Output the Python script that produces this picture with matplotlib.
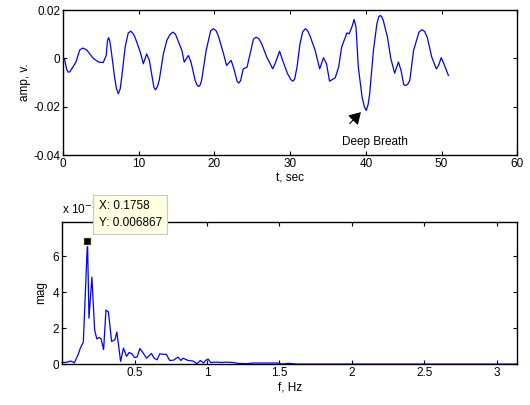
import matplotlib.pyplot as plt

plt.rcParams['font.family'] = ['Liberation Sans', 'DejaVu Sans']
plt.rcParams['font.size'] = 8.5

# breathing signal (t in sec, amplitude in volts)
t = [0, 0.2, 0.5, 0.7, 0.9, 1.15, 1.7, 2.2, 2.6, 3.1, 4.0, 4.7, 5.3, 5.7,
     5.85, 6.0, 6.15, 6.3, 6.8, 7.05, 7.3, 7.55, 7.75, 8.2, 8.6, 8.95, 9.3,
     9.5, 10.2, 10.6, 11.05, 11.4, 11.85, 12.0, 12.2, 12.45, 12.7, 13.25, 13.7,
     14.1, 14.5, 14.85, 15.0, 15.7, 16.0, 16.55, 16.9, 17.45, 17.7, 17.9, 18.1,
     18.3, 18.9, 19.5, 19.85, 20.2, 20.5, 21.2, 21.6, 22.2, 22.5, 23.0, 23.2,
     23.45, 23.8, 24.3, 24.8, 25.15, 25.5, 25.85, 26.25, 26.9, 27.7, 28.0,
     28.6, 29.0, 29.65, 30.1, 30.35, 30.6, 30.9, 31.3, 31.65, 32.0, 32.3, 32.6,
     33.3, 33.9, 34.4, 34.8, 35.2, 35.95, 36.4, 36.8, 37.5, 37.8, 38.15, 38.45,
     38.7, 39.0, 39.5, 39.8, 40.05, 40.3, 40.5, 41.0, 41.45, 41.7, 41.9, 42.1,
     42.3, 42.85, 43.3, 43.8, 44.3, 44.65, 45.0, 45.2, 45.5, 45.8, 46.3, 47.0,
     47.4, 47.75, 48.1, 48.7, 49.3, 49.6, 49.95, 50.3, 50.9]
amp = [0.0003, -0.0005, -0.0048, -0.0057, -0.0055, -0.0043, -0.0015, 0.0035,
       0.0043, 0.0036, 0.0, -0.0015, -0.0017, 0.0012, 0.007, 0.0086, 0.0075,
       0.0047, -0.0077, -0.0125, -0.0146, -0.0125, -0.0077, 0.0047, 0.0105,
       0.0113, 0.0100, 0.0088, 0.0026, -0.0022, 0.0019, -0.0008, -0.0091,
       -0.012, -0.013, -0.0118, -0.0091, 0.0019, 0.0074, 0.0098, 0.0109, 0.0100,
       0.0088, 0.0033, -0.0015, 0.0012, -0.0015, -0.0091, -0.011, -0.0116,
       -0.011, -0.0091, 0.0033, 0.0115, 0.0123, 0.0115, 0.0095, 0.0019, -0.0029,
       -0.0008, -0.0036, -0.0095, -0.0102, -0.0092, -0.0043, -0.0036, 0.0033,
       0.008, 0.0088, 0.0082, 0.006, 0.0006, -0.0043, -0.0022, 0.003, -0.0008,
       -0.0063, -0.0088, -0.0094, -0.0085, -0.0036, 0.0061, 0.011, 0.0123,
       0.0115, 0.0095, 0.0033, -0.0043, 0.0003, -0.0022, -0.0094, -0.008,
       -0.0036, 0.0047, 0.0106, 0.0102, 0.013, 0.0161, 0.013, -0.0036, -0.016,
       -0.020, -0.0215, -0.019, -0.0146, 0.0033, 0.0143, 0.0172, 0.0178, 0.0172,
       0.0157, 0.0088, -0.0001, -0.0061, -0.0015, -0.005, -0.0108, -0.0112,
       -0.0108, -0.0091, 0.0033, 0.0108, 0.0119, 0.0112, 0.0088, 0.0006,
       -0.0043, -0.0029, 0.0003, -0.0022, -0.007]

# spectrum magnitude (x 10^-3)
f = [0, 0.03, 0.06, 0.085, 0.11, 0.127, 0.147, 0.1758, 0.186, 0.206, 0.225,
     0.24, 0.257, 0.27, 0.287, 0.303, 0.32, 0.342, 0.365, 0.378, 0.388, 0.404,
     0.424, 0.445, 0.463, 0.482, 0.5, 0.518, 0.537, 0.56, 0.583, 0.617, 0.635,
     0.656, 0.674, 0.70, 0.72, 0.743, 0.77, 0.80, 0.82, 0.835, 0.87, 0.904,
     0.93, 0.954, 0.977, 0.99, 1.007, 1.025, 1.064, 1.1, 1.133, 1.18, 1.213,
     1.27, 1.317, 1.41, 1.5, 1.51, 1.57, 1.615, 3.14]
mag = [0.09, 0.1, 0.17, 0.07, 0.5, 0.9, 1.22, 6.867, 2.55, 4.83, 1.9, 1.4, 1.48,
       1.4, 0.8, 3.0, 2.9, 1.26, 1.35, 1.78, 1.17, 0.15, 0.89, 0.43, 0.65, 0.57,
       0.37, 0.39, 0.87, 0.61, 0.33, 0.59, 0.33, 0.24, 0.57, 0.54, 0.54, 0.2,
       0.22, 0.39, 0.2, 0.33, 0.2, 0.17, 0.02, 0.2, 0.06, 0.2, 0.28, 0.09, 0.11,
       0.09, 0.11, 0.09, 0.04, 0.02, 0.06, 0.06, 0.06, 0.0, 0.04, 0.0, 0.0]
peak_f, peak_mag = 0.1758, 0.006867

fig = plt.figure(figsize=(5.3, 4.05), dpi=100)
ax1 = fig.add_axes([0.119, 0.617, 0.857, 0.358])
ax2 = fig.add_axes([0.117, 0.101, 0.859, 0.351])

for ax in (ax1, ax2):
    ax.tick_params(direction='in', top=True, right=True, length=3, width=0.8,
                   labelsize=8.5, pad=2)
    for s in ax.spines.values():
        s.set_linewidth(1.0)

# top: time signal
ax1.plot(t, amp, color='blue', lw=0.9)
ax1.set_xlim(0, 60)
ax1.set_ylim(-0.04, 0.02)
ax1.set_xticks([0, 10, 20, 30, 40, 50, 60])
ax1.set_yticks([-0.04, -0.02, 0, 0.02])
ax1.set_yticklabels(['-0.04', '-0.02', '0', '0.02'])
ax1.set_xlabel('t, sec', labelpad=2)
ax1.set_ylabel('amp, v.', labelpad=2)
ax1.annotate('', xy=(39.6, -0.0214), xytext=(37.6, -0.0278),
             arrowprops=dict(arrowstyle='-|>,head_length=0.5,head_width=0.3',
                             color='black', lw=0.8, mutation_scale=14))
ax1.text(41.2, -0.0346, 'Deep Breath', ha='center', va='center', fontsize=8.5)

# bottom: spectrum
ax2.plot(f, mag, color='blue', lw=0.9, clip_on=False)
ax2.set_xlim(0, 3.14)
ax2.set_ylim(0, 7.9)
ax2.set_xticks([0.5, 1, 1.5, 2, 2.5, 3])
ax2.set_xticklabels(['0.5', '1', '1.5', '2', '2.5', '3'])
ax2.set_yticks([0, 2, 4, 6])
ax2.set_xlabel('f, Hz', labelpad=2)
ax2.set_ylabel('mag', labelpad=4)
ax2.text(0.0, 1.03, 'x 10$^{-3}$', transform=ax2.transAxes, fontsize=8.5,
         va='bottom', ha='left')

# data tip
ax2.plot([peak_f], [peak_mag * 1e3], marker='s', ms=6, color='black',
         mec='#f5f0c8', mew=1, zorder=5, clip_on=False)
ax2.annotate('X: 0.1758\nY: 0.006867', xy=(peak_f, peak_mag * 1e3),
             xytext=(8, 8.5), textcoords='offset points', fontsize=8.5,
             ha='left', va='bottom', zorder=10, annotation_clip=False,
             linespacing=1.5,
             bbox=dict(boxstyle='square,pad=0.45', fc='#ffffe1',
                       ec='#c8c8c8', lw=0.8))

fig.savefig('out.png', dpi=100)
